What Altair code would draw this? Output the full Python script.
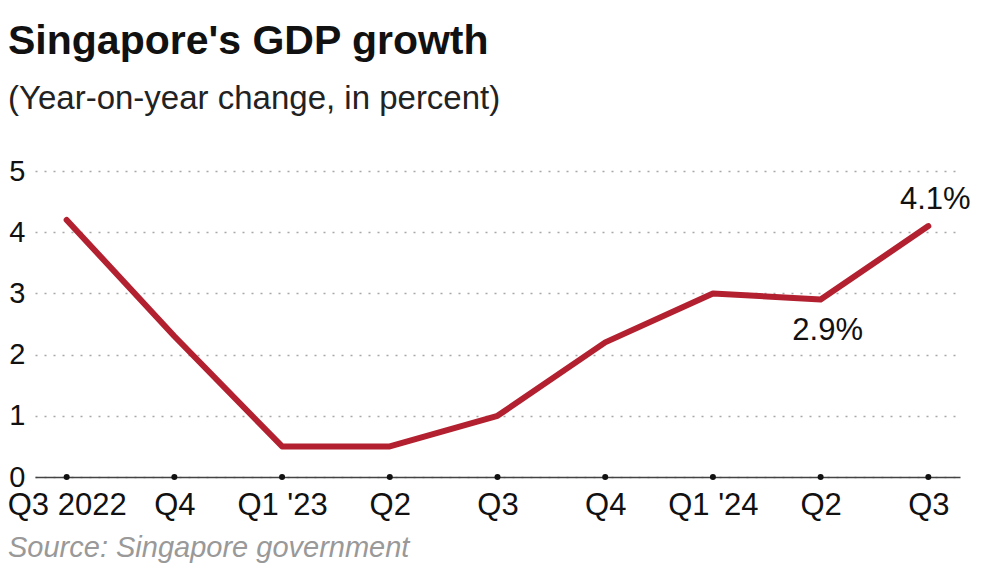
import altair as alt
import pandas as pd
import json

quarters = ["2022Q3", "2022Q4", "2023Q1", "2023Q2", "2023Q3", "2023Q4", "2024Q1", "2024Q2", "2024Q3"]
tick_labels = ["Q3 2022", "Q4", "Q1 '23", "Q2", "Q3", "Q4", "Q1 '24", "Q2", "Q3"]
growth = [4.2, 2.3, 0.5, 0.5, 1.0, 2.2, 3.0, 2.9, 4.1]

low_label_quarter = ["2024Q2"]
low_label_value = [2.9]
low_label_text = ["2.9%"]
high_label_quarter = ["2024Q3"]
high_label_value = [4.1]
high_label_text = ["4.1%"]

df = pd.DataFrame({"q": quarters, "g": growth})
low = pd.DataFrame({"q": low_label_quarter, "g": low_label_value, "t": low_label_text})
high = pd.DataFrame({"q": high_label_quarter, "g": high_label_value, "t": high_label_text})

mapping = json.dumps(dict(zip(quarters, tick_labels)))
FONT = "Liberation Sans"

xscale = alt.Scale(domain=quarters, padding=0.294)
yscale = alt.Scale(domain=[0, 5])

x = alt.X("q:O", scale=xscale, sort=quarters,
          axis=alt.Axis(title=None, labelAngle=0, labelFontSize=31, labelColor="#111",
                        labelFont=FONT, labelPadding=13, ticks=False, domainColor="#444",
                        domainWidth=1.3, grid=False, labelExpr=f"{mapping}[datum.value]"))
y = alt.Y("g:Q", scale=yscale,
          axis=alt.Axis(title=None, values=[0, 1, 2, 3, 4, 5], format="d", labelFontSize=29,
                        labelColor="#111", labelFont=FONT, labelPadding=10, ticks=False,
                        domain=False, grid=True, gridColor="#a8a8a8", gridDash=[2, 7],
                        gridWidth=1.3))

base = alt.Chart(df)

line = base.mark_line(color="#b3202f", strokeWidth=6, strokeCap="round", strokeJoin="round").encode(x=x, y=y)

dots = base.mark_circle(color="#111", size=36, opacity=1).encode(
    x=alt.X("q:O", scale=xscale, sort=quarters), y=alt.datum(0))

low_lab = alt.Chart(low).mark_text(fontSize=31, font=FONT, color="#111", align="center",
                                   baseline="middle", dx=7, dy=31).encode(
    x=alt.X("q:O", scale=xscale, sort=quarters), y=alt.Y("g:Q", scale=yscale), text="t:N")

high_lab = alt.Chart(high).mark_text(fontSize=31, font=FONT, color="#111", align="center",
                                     baseline="middle", dx=7, dy=-26).encode(
    x=alt.X("q:O", scale=xscale, sort=quarters), y=alt.Y("g:Q", scale=yscale), text="t:N")

source = alt.Chart(pd.DataFrame({"s": ["Source: Singapore government"]})).mark_text(
    fontSize=29, font=FONT, fontStyle="italic", color="#999", align="left", baseline="middle"
).encode(text="s:N", x=alt.value(-27), y=alt.value(377))

chart = alt.layer(line, dots, low_lab, high_lab, source).properties(
    width=925, height=306,
    title=alt.TitleParams(
        text="Singapore's GDP growth",
        subtitle="(Year-on-year change, in percent)",
        anchor="start", frame="group", dx=-27,
        fontSize=41, font=FONT, fontWeight="bold", color="#111",
        subtitleFontSize=33, subtitleFont=FONT, subtitleColor="#222",
        subtitlePadding=20, offset=40,
    ),
    autosize=alt.AutoSizeParams(type="none"),
    padding={"left": 27, "top": 163, "right": 30, "bottom": 90},
).configure(background="white").configure_view(strokeWidth=0)

chart.save("out.html", embed_options={"renderer": "svg", "actions": False})
